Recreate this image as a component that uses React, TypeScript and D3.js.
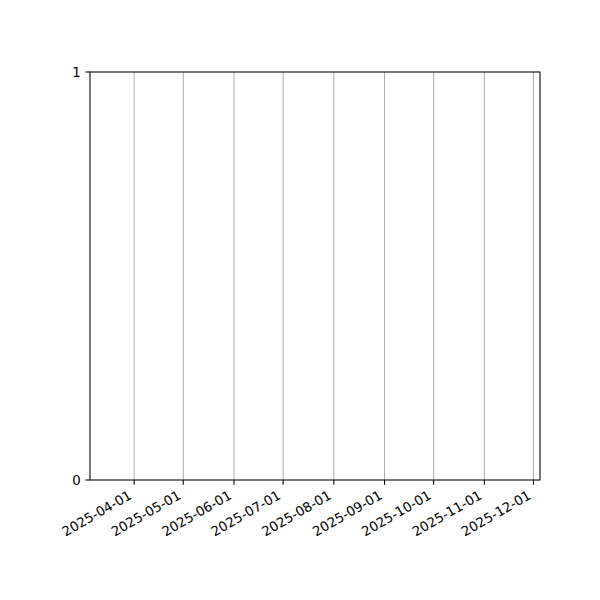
import React from "react";
import * as d3 from "d3";

const xDomainStart = "2025-03-05";
const xDomainEnd = "2025-12-05";
const xTickLabels = [
  "2025-04-01", "2025-05-01", "2025-06-01", "2025-07-01", "2025-08-01",
  "2025-09-01", "2025-10-01", "2025-11-01", "2025-12-01",
];
const yTickValues = [0, 1];

const W = 600, H = 600;
const M = { left: 90, right: 540, top: 72, bottom: 480 };
const FONT = "DejaVu Sans, sans-serif";

export default function App() {
  const parse = (s: string) => new Date(s + "T00:00:00Z");
  const x = d3.scaleUtc().domain([parse(xDomainStart), parse(xDomainEnd)]).range([M.left, M.right]);
  const y = d3.scaleLinear().domain([0, 1]).range([M.bottom, M.top]);
  const tickLen = 4.67;
  return (
    <div style={{ position: "absolute", left: 0, top: 0 }}>
      <svg width={W} height={H} style={{ display: "block", background: "#fff" }}>
        {xTickLabels.map((t) => {
          const px = x(parse(t));
          return (
            <g key={t}>
              <line x1={px} x2={px} y1={M.top} y2={M.bottom} stroke="#b0b0b0" strokeWidth={1.07} />
              <line x1={px} x2={px} y1={M.bottom} y2={M.bottom + tickLen} stroke="#000" strokeWidth={1.07} />
              <text
                transform={`translate(${px - 1.5},${498}) rotate(-30)`}
                textAnchor="end"
                fontFamily={FONT}
                fontSize={13.33}
                fill="#000"
              >
                {t}
              </text>
            </g>
          );
        })}
        {yTickValues.map((v) => {
          const py = y(v);
          return (
            <g key={v}>
              <line x1={M.left - tickLen} x2={M.left} y1={py} y2={py} stroke="#000" strokeWidth={1.07} />
              <text
                x={M.left - tickLen - 4.67}
                y={py}
                dy="0.35em"
                textAnchor="end"
                fontFamily={FONT}
                fontSize={13.33}
                fill="#000"
              >
                {v}
              </text>
            </g>
          );
        })}
        <rect
          x={M.left}
          y={M.top}
          width={M.right - M.left}
          height={M.bottom - M.top}
          fill="none"
          stroke="#000"
          strokeWidth={1.07}
        />
      </svg>
    </div>
  );
}
